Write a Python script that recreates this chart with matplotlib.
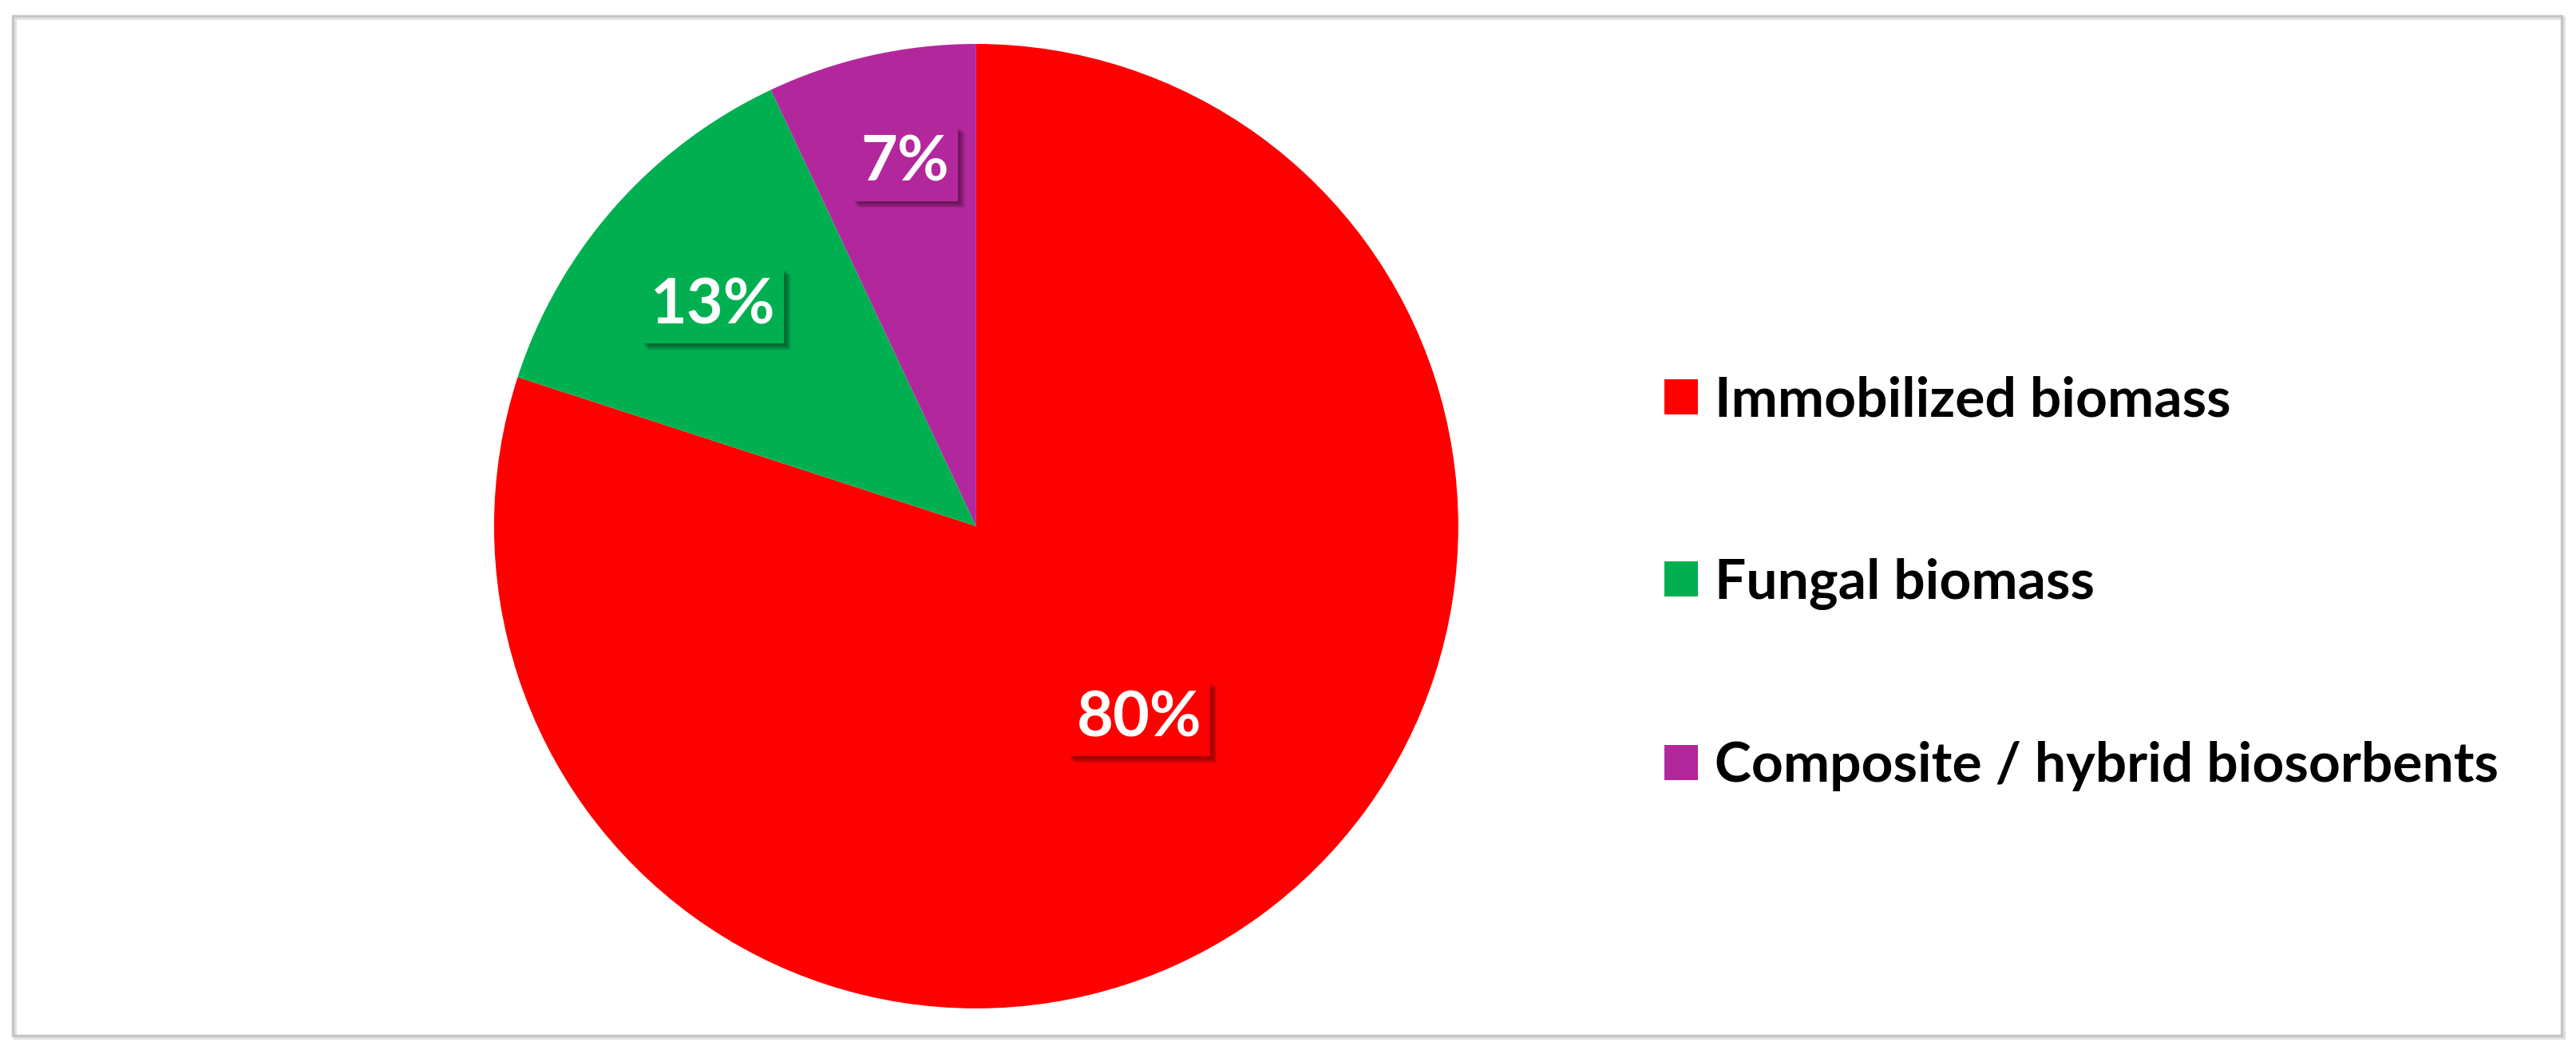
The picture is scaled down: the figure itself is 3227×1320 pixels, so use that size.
import matplotlib
matplotlib.use("Agg")
import matplotlib.pyplot as plt
import matplotlib.patches as mpatches
import matplotlib.patheffects as pe
import numpy as np

## data
categories = ["Immobilized biomass", "Fungal biomass", "Composite / hybrid biosorbents"]
shares = [80, 13, 7]
colors = ["#FF0000", "#00B050", "#B3279C"]

## where each % label sits inside its wedge (fraction of radius, angle nudge in degrees)
label_dist = [0.523, 0.712, 0.766]
label_nudge = [4.2, 1.5, -1.5]

plt.rcParams["font.family"] = ["Lato", "DejaVu Sans"]
plt.rcParams["font.weight"] = "bold"

fig = plt.figure(figsize=(32.27, 13.20), dpi=100)
fig.patch.set_facecolor("white")

## grey frame around the whole chart, with a faint shadow line
W, H = 3227, 1320
shadow = mpatches.Rectangle((19 / W, 1 - 1300 / H), (3209 - 16) / W, (1297 - 20) / H,
                            transform=fig.transFigure, fill=False, edgecolor="#E2E2E2", linewidth=3)
frame = mpatches.Rectangle((16 / W, 1 - 1297 / H), (3209 - 16) / W, (1297 - 20) / H,
                           transform=fig.transFigure, fill=False, edgecolor="#C6C6C6", linewidth=2.5)
fig.patches.extend([shadow, frame])

ax = fig.add_axes([0.1918, 0.0432, 0.3743, 0.9152])
wedges, _ = ax.pie(shares, colors=colors, startangle=90, counterclock=False,
                   wedgeprops=dict(linewidth=0))
ax.set_xlim(-1, 1)
ax.set_ylim(-1, 1)
ax.set_aspect("equal")
ax.axis("off")

## soft drop shadow: a few stacked faint shadows
soft = [pe.SimplePatchShadow(offset=(o, -o), shadow_rgbFace="black", alpha=0.09) for o in (2, 3, 4, 5, 6)]

## percentage labels in boxes with a small drop shadow
for w, s, c, d, nud in zip(wedges, shares, colors, label_dist, label_nudge):
    mid = np.deg2rad((w.theta1 + w.theta2) / 2 + nud)
    t = ax.text(d * np.cos(mid), d * np.sin(mid), f"{s}%", ha="center", va="center",
                fontsize=57, color="white", fontweight="bold",
                bbox=dict(boxstyle="square,pad=0.14", facecolor=c, edgecolor="none"))
    t.get_bbox_patch().set_path_effects(soft + [pe.Normal()])

handles = [mpatches.Patch(facecolor=c, edgecolor="none") for c in colors]
fig.legend(handles, categories, loc="center left", bbox_to_anchor=(2085 / W, 1 - 731 / H),
           frameon=False, handlelength=0.6, handleheight=0.6, borderpad=0, borderaxespad=0,
           handletextpad=0.3, labelspacing=2.37, prop=dict(size=50, weight="bold"))

fig.savefig("out.png", dpi=100, facecolor="white")
